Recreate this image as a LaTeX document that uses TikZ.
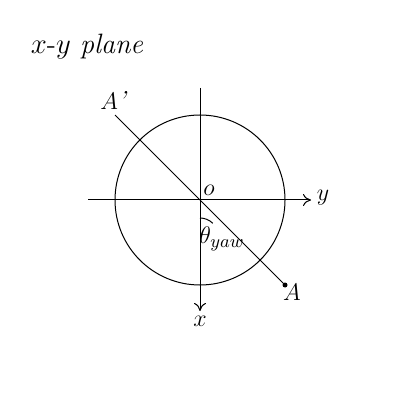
\documentclass[tikz,border=0pt]{standalone}
\usetikzlibrary{arrows.meta}
\begin{document}
\begin{tikzpicture}[x=0.5pt,y=-0.5pt,
  lbl/.style={inner sep=0pt,font=\fontsize{13}{15}\selectfont},
  axis/.style={line width=0.5pt,-{To[length=4pt,width=6pt]}},
  thinline/.style={line width=0.5pt}]
\useasboundingbox (0,0) rectangle (400,400);
\coordinate (o) at (200,200);
\coordinate (xl) at (88,200);
\coordinate (yt) at (200,88);
\coordinate (yend) at (311,200);
\coordinate (xend) at (200,311);
\coordinate (Ap) at (115,115);
\coordinate (A) at (285,285);
\draw[thinline] (o) circle[radius=85];
\draw[axis] (xl) -- (yend);
\draw[axis] (yt) -- (xend);
\draw[thinline] (Ap) -- (A);
\fill (A) circle[radius=2.5];
\draw[thinline] (200,218) arc[start angle=-90,end angle=-45,radius=18];
\node[lbl] (ttl) at (87,47) {\fontsize{14}{16}\selectfont$x$-$y$ \itshape plane};
\node[lbl] (olbl) at (209,190) {$o$};
\node[lbl] (ylbl) at (323,198) {$y$};
\node[lbl] (xlbl) at (200,321) {$x$};
\node[lbl] (albl) at (292,292) {$A$};
\node[lbl] (aplbl) at (113,100) {$A$\itshape'};
\node[lbl] (th) at (222,239) {$\theta_{yaw}$};
\end{tikzpicture}
\end{document}
